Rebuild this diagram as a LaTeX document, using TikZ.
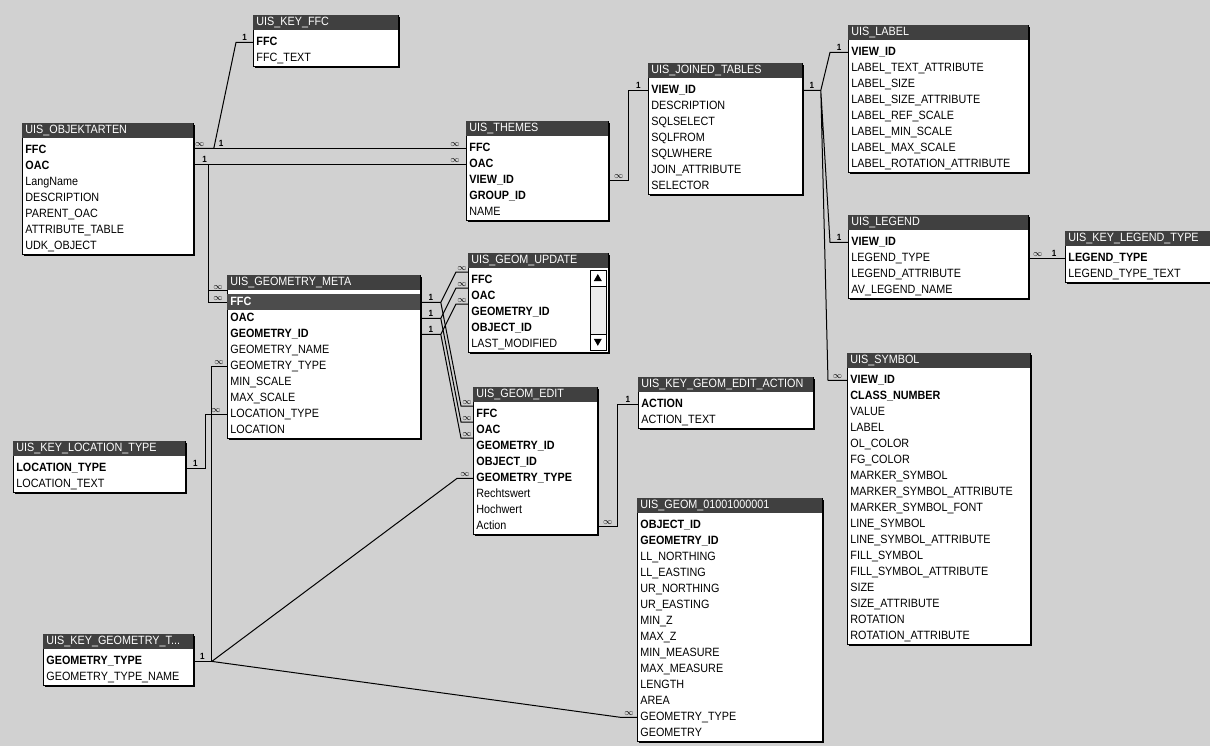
\documentclass[tikz,border=0pt]{standalone}
\usepackage{fontspec}
\setmainfont{Liberation Sans}[FakeStretch=0.9]
\usetikzlibrary{matrix,shadows}

\begin{document}
\begin{tikzpicture}[x=1pt, y=-1pt,
    tbl/.style={matrix of nodes, draw, line width=0.8pt, fill=white, inner sep=0pt,
                anchor=north west,
                drop shadow={shadow xshift=2pt, shadow yshift=-2pt, fill=black, opacity=1},
                nodes={text width=#1, align=left, inner xsep=3pt, inner ysep=0pt,
                       text height=11pt, text depth=5pt,
                       font=\fontsize{12}{14}\selectfont}},
    ttl/.style={fill=black!75, text=white, text height=10pt, text depth=5pt},
    pk/.style={font=\bfseries\fontsize{12}{14}\selectfont},
    sel/.style={pk, fill=black!70, text=white},
    rel/.style={line width=1pt},
    card/.style={font=\bfseries\fontsize{9}{10}\selectfont, inner sep=1pt}]
  \fill[black!18] (0,0) rectangle (1210,746);
  \useasboundingbox (0,0) rectangle (1210,746);

  \matrix (keyffc) [tbl=139pt] at (253,15) {
    |[ttl]| UIS\_KEY\_FFC \\[4pt]
    |[pk]| FFC \\
    FFC\_TEXT \\
  };
  \matrix (objart) [tbl=165pt] at (22,123) {
    |[ttl]| UIS\_OBJEKTARTEN \\[4pt]
    |[pk]| FFC \\
    |[pk]| OAC \\
    LangName \\
    DESCRIPTION \\
    PARENT\_OAC \\
    ATTRIBUTE\_TABLE \\
    UDK\_OBJECT \\
  };
  \matrix (themes) [tbl=136pt] at (466,121) {
    |[ttl]| UIS\_THEMES \\[4pt]
    |[pk]| FFC \\
    |[pk]| OAC \\
    |[pk]| VIEW\_ID \\
    |[pk]| GROUP\_ID \\
    NAME \\
  };
  \matrix (joined) [tbl=148pt] at (648,63) {
    |[ttl]| UIS\_JOINED\_TABLES \\[4pt]
    |[pk]| VIEW\_ID \\
    DESCRIPTION \\
    SQLSELECT \\
    SQLFROM \\
    SQLWHERE \\
    JOIN\_ATTRIBUTE \\
    SELECTOR \\
  };
  \matrix (label) [tbl=174pt] at (848,25) {
    |[ttl]| UIS\_LABEL \\[4pt]
    |[pk]| VIEW\_ID \\
    LABEL\_TEXT\_ATTRIBUTE \\
    LABEL\_SIZE \\
    LABEL\_SIZE\_ATTRIBUTE \\
    LABEL\_REF\_SCALE \\
    LABEL\_MIN\_SCALE \\
    LABEL\_MAX\_SCALE \\
    LABEL\_ROTATION\_ATTRIBUTE \\
  };
  \matrix (legend) [tbl=174pt] at (848,215) {
    |[ttl]| UIS\_LEGEND \\[4pt]
    |[pk]| VIEW\_ID \\
    LEGEND\_TYPE \\
    LEGEND\_ATTRIBUTE \\
    AV\_LEGEND\_NAME \\
  };
  \matrix (keylegend) [tbl=144pt] at (1065,231) {
    |[ttl]| UIS\_KEY\_LEGEND\_TYPE \\[4pt]
    |[pk]| LEGEND\_TYPE \\
    LEGEND\_TYPE\_TEXT \\
  };
  \matrix (geometa) [tbl=187pt] at (227,275) {
    |[ttl]| UIS\_GEOMETRY\_META \\[4pt]
    |[sel]| FFC \\
    |[pk]| OAC \\
    |[pk]| GEOMETRY\_ID \\
    GEOMETRY\_NAME \\
    GEOMETRY\_TYPE \\
    MIN\_SCALE \\
    MAX\_SCALE \\
    LOCATION\_TYPE \\
    LOCATION \\
  };
  \matrix (geomupd) [tbl=134pt] at (468,253) {
    |[ttl]| UIS\_GEOM\_UPDATE \\[4pt]
    |[pk]| FFC \\
    |[pk]| OAC \\
    |[pk]| GEOMETRY\_ID \\
    |[pk]| OBJECT\_ID \\
    LAST\_MODIFIED \\
  };
  \matrix (geomedit) [tbl=118pt] at (473,387) {
    |[ttl]| UIS\_GEOM\_EDIT \\[4pt]
    |[pk]| FFC \\
    |[pk]| OAC \\
    |[pk]| GEOMETRY\_ID \\
    |[pk]| OBJECT\_ID \\
    |[pk]| GEOMETRY\_TYPE \\
    Rechtswert \\
    Hochwert \\
    Action \\
  };
  \matrix (keyaction) [tbl=169pt] at (638,377) {
    |[ttl]| UIS\_KEY\_GEOM\_EDIT\_ACTION \\[4pt]
    |[pk]| ACTION \\
    ACTION\_TEXT \\
  };
  \matrix (geom01) [tbl=179pt] at (637,498) {
    |[ttl]| UIS\_GEOM\_01001000001 \\[4pt]
    |[pk]| OBJECT\_ID \\
    |[pk]| GEOMETRY\_ID \\
    LL\_NORTHING \\
    LL\_EASTING \\
    UR\_NORTHING \\
    UR\_EASTING \\
    MIN\_Z \\
    MAX\_Z \\
    MIN\_MEASURE \\
    MAX\_MEASURE \\
    LENGTH \\
    AREA \\
    GEOMETRY\_TYPE \\
    GEOMETRY \\
  };
  \matrix (symbol) [tbl=177pt] at (847,353) {
    |[ttl]| UIS\_SYMBOL \\[4pt]
    |[pk]| VIEW\_ID \\
    |[pk]| CLASS\_NUMBER \\
    VALUE \\
    LABEL \\
    OL\_COLOR \\
    FG\_COLOR \\
    MARKER\_SYMBOL \\
    MARKER\_SYMBOL\_ATTRIBUTE \\
    MARKER\_SYMBOL\_FONT \\
    LINE\_SYMBOL \\
    LINE\_SYMBOL\_ATTRIBUTE \\
    FILL\_SYMBOL \\
    FILL\_SYMBOL\_ATTRIBUTE \\
    SIZE \\
    SIZE\_ATTRIBUTE \\
    ROTATION \\
    ROTATION\_ATTRIBUTE \\
  };
  \matrix (keyloc) [tbl=166pt] at (13,441) {
    |[ttl]| UIS\_KEY\_LOCATION\_TYPE \\[4pt]
    |[pk]| LOCATION\_TYPE \\
    LOCATION\_TEXT \\
  };
  \matrix (keygeom) [tbl=144pt] at (43,634) {
    |[ttl]| UIS\_KEY\_GEOMETRY\_T... \\[4pt]
    |[pk]| GEOMETRY\_TYPE \\
    GEOMETRY\_TYPE\_NAME \\
  };

  \draw[fill=black!8] ([xshift=-19pt, yshift=-17pt]geomupd.north east) rectangle ([xshift=-3pt, yshift=3pt]geomupd.south east);
  \draw[fill=white] ([xshift=-19pt, yshift=-17pt]geomupd.north east) rectangle ++(16,16);
  \draw[fill=white] ([xshift=-19pt, yshift=19pt]geomupd.south east) rectangle ++(16,16);
  \fill ([xshift=-11pt, yshift=-21pt]geomupd.north east) -- ++(4,7) -- ++(-8,0) -- cycle;
  \fill ([xshift=-15pt, yshift=14pt]geomupd.south east) -- ++(8,0) -- ++(-4,7) -- cycle;

  \draw[rel] (objart.east |- themes-2-1) -- node[card, above, pos=.1]{1} node[card, above, pos=.96]{$\infty$} (themes-2-1.west);
  \draw[rel] (objart.east |- themes-3-1) -- node[card, above, pos=.04]{1} node[card, above, pos=.96]{$\infty$} (themes-3-1.west);
  \draw[rel] (objart.east |- themes-2-1) -- node[card, above, pos=.3]{$\infty$} ++(20,0) -- ([xshift=-17pt]keyffc-2-1.west) -- node[card, above]{1} (keyffc-2-1.west);
  \draw[rel] (objart.east |- themes-3-1) -- ++(15,0) |- node[card, above, pos=.75]{$\infty$} (geometa-1-1.south west);
  \draw[rel] (objart.east |- themes-3-1) -- ++(15,0) |- node[card, above, pos=.75]{$\infty$} (geometa-2-1.west);
  \draw[rel] (geometa-6-1.west) -- node[card, above]{$\infty$} ++(-16,0) |- node[card, above, pos=.75]{1} (keygeom-2-1.east);
  \draw[rel] (geometa-9-1.west) -- node[card, above]{$\infty$} ++(-22,0) |- node[card, above, pos=.75]{1} (keyloc-2-1.east);
  \coordinate (gt) at ([xshift=18pt]keygeom-2-1.east);
  \draw[rel] (gt) -- ([xshift=-16pt]geomedit-6-1.west) -- node[card, above]{$\infty$} (geomedit-6-1.west);
  \draw[rel] (gt) -- ([xshift=-16pt]geom01-14-1.west) -- node[card, above]{$\infty$} (geom01-14-1.west);
  \draw[rel] (geometa-2-1.east) -- node[card, above]{1} ++(20,0) coordinate (gm1)
    -- ([xshift=-12pt]geomupd-2-1.north west) -- node[card, above]{$\infty$} (geomupd-2-1.north west)
    (gm1) -- ([xshift=-12pt]geomedit-2-1.north west) -- node[card, above]{$\infty$} (geomedit-2-1.north west);
  \draw[rel] (geometa-3-1.east) -- node[card, above]{1} ++(20,0) coordinate (gm2)
    -- ([xshift=-12pt]geomupd-3-1.north west) -- node[card, above]{$\infty$} (geomupd-3-1.north west)
    (gm2) -- ([xshift=-12pt]geomedit-3-1.north west) -- node[card, above]{$\infty$} (geomedit-3-1.north west);
  \draw[rel] (geometa-4-1.east) -- node[card, above]{1} ++(20,0) coordinate (gm3)
    -- ([xshift=-12pt]geomupd-4-1.north west) -- node[card, above]{$\infty$} (geomupd-4-1.north west)
    (gm3) -- ([xshift=-12pt]geomedit-4-1.north west) -- node[card, above]{$\infty$} (geomedit-4-1.north west);
  \draw[rel] (geomedit-9-1.east) -- node[card, above]{$\infty$} ++(20,0) |- node[card, above, pos=.75]{1} (keyaction-2-1.west);
  \draw[rel] (themes-4-1.east) -- node[card, above]{$\infty$} ++(20,0) |- node[card, above, pos=.75]{1} (joined-2-1.west);
  \draw[rel] (joined-2-1.east) -- node[card, above]{1} ++(18,0) coordinate (jv)
    -- ([xshift=-18pt]label-2-1.west) -- node[card, above]{1} (label-2-1.west)
    (jv) -- ([xshift=-18pt]legend-2-1.west) -- node[card, above]{1} (legend-2-1.west)
    (jv) -- ([xshift=-19pt]symbol-2-1.west) -- node[card, above]{$\infty$} (symbol-2-1.west);
  \draw[rel] (legend-3-1.east) -- node[card, above, pos=.25]{$\infty$} node[card, above, pos=.7]{1} (keylegend-2-1.west);
\end{tikzpicture}
\end{document}
